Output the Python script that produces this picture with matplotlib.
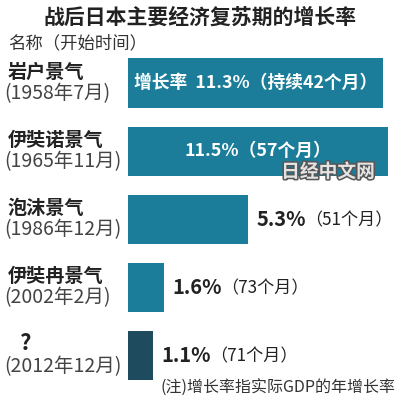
import matplotlib
matplotlib.use('Agg')
import matplotlib.pyplot as plt
import matplotlib.patheffects as pe

plt.rcParams['font.family'] = ['Noto Sans CJK SC', 'DejaVu Sans']

# ---------------- data ----------------
names = ['岩户景气', '伊奘诺景气', '泡沫景气', '伊奘冉景气', '？']
starts = ['(1958年7月)', '(1965年11月)', '(1986年12月)', '(2002年2月)', '(2012年12月)']
growth = [11.3, 11.5, 5.3, 1.6, 1.1]
months = [42, 57, 51, 73, 71]

TEAL = '#1b7d99'
DARK = '#1f4b5f'
colors = [TEAL, TEAL, TEAL, TEAL, DARK]

# ---------------- figure ----------------
fig = plt.figure(figsize=(4, 4), dpi=100)
fig.patch.set_facecolor('white')
ax = fig.add_axes([0.32, 0, 0.68, 1])
ax.axis('off')
ax.set_xlim(0, 12.04)
ax.set_ylim(4.655, -1.219)

ypos = list(range(len(names)))
ax.barh(ypos, growth, height=0.72, color=colors, left=0)

# labels inside the first two bars
ax.text(growth[0] / 2, 0, '增长率  11.3%（持续42个月）', color='white',
        fontsize=12.8, weight='bold', ha='center', va='center')
ax.text(growth[1] / 2, 1, '11.5%（57个月）', color='white',
        fontsize=12.8, weight='bold', ha='center', va='center')

# labels outside the short bars
for i in range(2, 5):
    ax.annotate('%.1f%%' % growth[i], (growth[i], i), xytext=(6, 0),
                textcoords='offset points', ha='left', va='center',
                fontsize=14.5, weight='bold', color='#222222')
    ax.annotate('（%d个月）' % months[i], (growth[i], i), xytext=(41, -1),
                textcoords='offset points', ha='left', va='center',
                fontsize=12.3, color='#222222')

# left side names
for i in range(len(names)):
    ytop = 1 - (83 + i * 68.1) / 400
    if names[i] == '？':
        fig.text(20 / 400, ytop + 0.03, '?', fontsize=16, weight='bold',
                 ha='left', va='center', color='#222222')
    else:
        fig.text(8 / 400, ytop + 0.027, names[i], fontsize=13.8, weight='bold',
                 ha='left', va='center', color='#222222')
    fig.text(4 / 400, ytop - 0.027, starts[i], fontsize=14,
             ha='left', va='center', color='#444444')

# title and headers
fig.text(0.5, 0.958, '战后日本主要经济复苏期的增长率', fontsize=15, weight='bold',
         ha='center', va='center', color='#222222')
fig.text(8 / 400, 0.892, '名称（开始时间）', fontsize=12.5, ha='left', va='center',
         color='#333333')

# watermark
fig.text(328 / 400, 1 - 172 / 400, '日经中文网', fontsize=13.5, weight='bold',
         ha='center', va='center', color='#e4e4e4',
         path_effects=[pe.withStroke(linewidth=2.2, foreground='#555555')])

# note
fig.text(396 / 400, 1 - 388 / 400, '(注)增长率指实际GDP的年增长率', fontsize=11.5,
         ha='right', va='center', color='#333333')

fig.savefig('out.png', dpi=100)
